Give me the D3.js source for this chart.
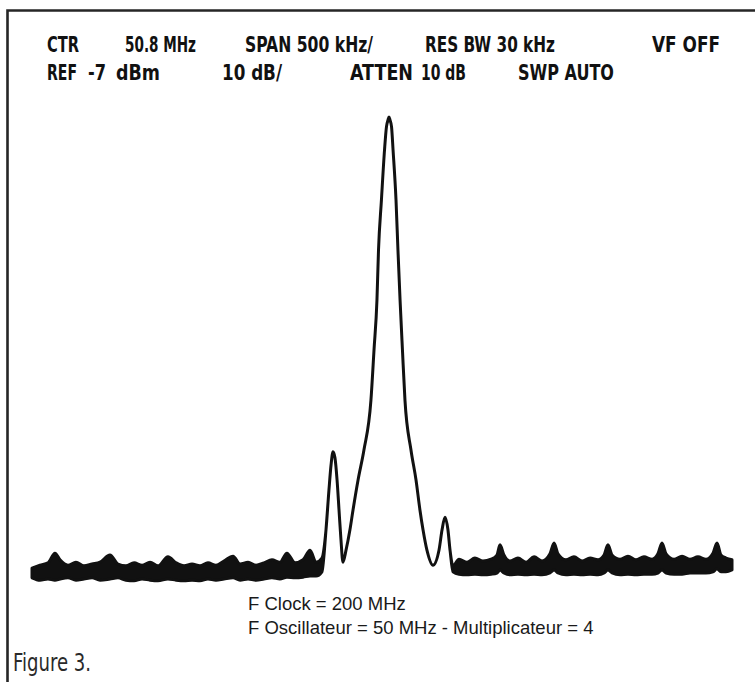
<!DOCTYPE html>
<html>
<head>
<meta charset="utf-8">
<script src="https://cdn.jsdelivr.net/npm/d3@7"></script>
<style>
  html, body { margin: 0; padding: 0; background: #fff; }
  svg { display: block; }
</style>
</head>
<body>
<svg id="chart" width="755" height="682"></svg>
<script>
// ---- Data ----
// Frequency axis: CTR 50.8 MHz, 500 kHz/div, 10 div
const freqMin = 48.3, freqMax = 53.3;
// Level axis: REF -7 dBm, 10 dB/div
const refLevel = -7;

// trace sample frequencies (MHz)
const traceFreq = [
  48.300, 48.357, 48.414, 48.464, 48.500, 48.557, 48.614, 48.671, 48.729, 48.786,
  48.857, 48.914, 48.971, 49.029, 49.086, 49.143, 49.200, 49.271, 49.329, 49.386,
  49.443, 49.500, 49.557, 49.614, 49.671, 49.736, 49.786, 49.843, 49.900, 49.957,
  50.014, 50.071, 50.121, 50.179, 50.236, 50.286, 50.329, 50.371,
  50.400, 50.421, 50.436, 50.450, 50.464, 50.479, 50.493, 50.507, 50.521,
  50.543, 50.571, 50.593, 50.629, 50.671, 50.721, 50.743, 50.764, 50.775, 50.796,
  50.818, 50.832, 50.843, 50.850, 50.857, 50.868, 50.879, 50.900, 50.914, 50.929, 50.946, 50.964,
  51.007, 51.043, 51.071, 51.093, 51.121, 51.164, 51.207, 51.229, 51.250, 51.271,
  51.286, 51.307,
  51.350, 51.407, 51.464, 51.521, 51.579, 51.621, 51.643, 51.671, 51.714, 51.771,
  51.829, 51.886, 51.943, 52.000, 52.029, 52.057, 52.114, 52.171, 52.229, 52.286,
  52.343, 52.386, 52.414, 52.443, 52.500, 52.557, 52.614, 52.671, 52.729, 52.771,
  52.800, 52.829, 52.886, 52.943, 53.000, 53.057, 53.114, 53.164, 53.193, 53.221,
  53.257, 53.300
];
// upper edge of the trace (dBm)
const traceHigh = [
  -82.2, -81.7, -81.3, -79.7, -80.8, -81.7, -81.2, -81.8, -81.5, -81.2,
  -80.0, -81.5, -81.8, -81.3, -81.7, -81.2, -81.8, -80.3, -81.3, -81.8,
  -81.5, -81.8, -81.3, -81.7, -81.0, -80.2, -81.5, -81.2, -81.7, -81.3,
  -80.8, -81.2, -79.7, -81.3, -80.8, -79.2, -81.2, -80.5,
  -75.8, -69.2, -65.0, -62.8, -63.8, -67.5, -72.5, -77.5, -81.2,
  -79.2, -75.8, -72.5, -67.5, -62.5, -54.2, -45.8, -37.5, -29.2, -20.8,
  -12.5, -8.6, -7.5, -7.0, -7.5, -8.6, -12.5, -20.8, -29.2, -37.5, -45.8, -54.2,
  -62.5, -67.5, -72.5, -75.8, -79.2, -81.7, -79.2, -75.8, -73.7, -75.8,
  -79.2, -81.8,
  -80.7, -81.2, -80.5, -81.0, -80.7, -80.0, -78.3, -80.0, -81.0, -80.5,
  -81.2, -80.3, -81.0, -79.8, -78.0, -79.8, -80.8, -80.3, -81.0, -80.5,
  -80.8, -80.0, -78.3, -80.0, -80.7, -80.2, -80.8, -80.3, -80.7, -79.8,
  -78.0, -79.8, -80.7, -80.2, -80.7, -80.3, -80.7, -79.7, -78.0, -80.0,
  -80.5, -80.8
];
// lower edge of the trace (dBm)
const traceLow = [
  -83.8, -84.2, -84.0, -84.2, -84.0, -83.8, -84.2, -84.0, -83.8, -84.2,
  -84.0, -83.8, -84.2, -84.3, -84.0, -84.2, -84.3, -84.0, -84.2, -84.3,
  -84.2, -84.3, -84.0, -84.2, -84.0, -83.8, -84.2, -84.0, -84.2, -84.0,
  -83.8, -84.0, -83.7, -83.8, -83.7, -83.5, -83.5, -82.8,
  -75.8, -69.2, -65.0, -62.8, -63.8, -67.5, -72.5, -77.5, -81.2,
  -79.2, -75.8, -72.5, -67.5, -62.5, -54.2, -45.8, -37.5, -29.2, -20.8,
  -12.5, -8.6, -7.5, -7.0, -7.5, -8.6, -12.5, -20.8, -29.2, -37.5, -45.8, -54.2,
  -62.5, -67.5, -72.5, -75.8, -79.2, -81.7, -79.2, -75.8, -73.7, -75.8,
  -79.2, -82.8,
  -83.2, -83.3, -83.2, -83.3, -83.2, -83.0, -82.5, -83.0, -83.3, -83.2,
  -83.3, -83.2, -83.3, -83.0, -82.5, -83.0, -83.3, -83.2, -83.3, -83.2,
  -83.3, -83.0, -82.5, -83.0, -83.3, -83.2, -83.3, -83.2, -83.2, -83.0,
  -82.5, -83.0, -83.2, -83.2, -83.0, -83.0, -83.0, -82.8, -82.3, -82.8,
  -82.8, -82.5
];

// header settings text
const headerRow1 = ["CTR", "50.8 MHz", "SPAN 500 kHz/", "RES BW 30 kHz", "VF OFF"];
const headerRow2 = ["REF", "-7", "dBm", "10 dB/", "ATTEN", "10 dB", "SWP AUTO"];
const captionLines = ["F Clock = 200 MHz", "F Oscillateur = 50 MHz - Multiplicateur = 4"];
const figureLabel = "Figure 3.";

// ---- Layout ----
const svg = d3.select("#chart");
const W = 755, H = 682;

svg.append("rect").attr("x", 0).attr("y", 0).attr("width", W).attr("height", H).attr("fill", "#fff");

// frame (top + left)
svg.append("path")
  .attr("d", `M7.5,682 L7.5,10.5 L755,10.5`)
  .attr("fill", "none").attr("stroke", "#262626").attr("stroke-width", 2.6);

const x = d3.scaleLinear().domain([freqMin, freqMax]).range([32, 732]);
// 6 px per dB, ref level at y = 117
const y = d3.scaleLinear().domain([refLevel, refLevel - 80]).range([117, 597]);

const traceData = traceFreq.map((f, i) => ({ f, hi: traceHigh[i], lo: traceLow[i] }));

const area = d3.area()
  .x(d => x(d.f))
  .y0(d => y(d.lo))
  .y1(d => y(d.hi))
  .curve(d3.curveMonotoneX);

svg.append("path")
  .datum(traceData)
  .attr("d", area)
  .attr("fill", "#111")
  .attr("stroke", "#111")
  .attr("stroke-width", 3)
  .attr("stroke-linejoin", "round");

// ---- Header text ----
const hdrFont = "'DejaVu Sans Condensed', 'Liberation Sans Narrow', Arial, sans-serif";
const row1Pos = [[47, 32], [125, 71], [245, 128], [425, 130], [652, 68]];
const row2Pos = [[47, 30], [88, 18], [116, 44], [222, 60], [350, 63], [421, 45], [518, 96]];

function hdr(texts, pos, baseline) {
  svg.append("g").selectAll("text").data(texts).join("text")
    .attr("x", (d, i) => pos[i][0])
    .attr("y", baseline)
    .attr("textLength", (d, i) => pos[i][1])
    .attr("lengthAdjust", "spacingAndGlyphs")
    .attr("font-family", hdrFont)
    .attr("font-weight", "bold")
    .attr("font-stretch", "condensed")
    .attr("font-size", 20.5)
    .attr("fill", "#111")
    .text(d => d);
}
hdr(headerRow1, row1Pos, 52);
hdr(headerRow2, row2Pos, 80);

// ---- Caption ----
svg.append("g").selectAll("text").data(captionLines).join("text")
  .attr("x", 248)
  .attr("y", (d, i) => 610 + i * 24)
  .attr("font-family", "'Liberation Sans', Arial, sans-serif")
  .attr("font-size", 18.5)
  .attr("fill", "#1a1a1a")
  .text(d => d);

// ---- Figure label ----
svg.append("text")
  .attr("x", 13)
  .attr("y", 671)
  .attr("textLength", 78)
  .attr("lengthAdjust", "spacingAndGlyphs")
  .attr("font-family", "'DejaVu Sans Condensed', 'Liberation Sans Narrow', sans-serif")
  .attr("font-stretch", "condensed")
  .attr("font-size", 24)
  .attr("fill", "#2a2a2a")
  .text(figureLabel);
</script>
</body>
</html>
